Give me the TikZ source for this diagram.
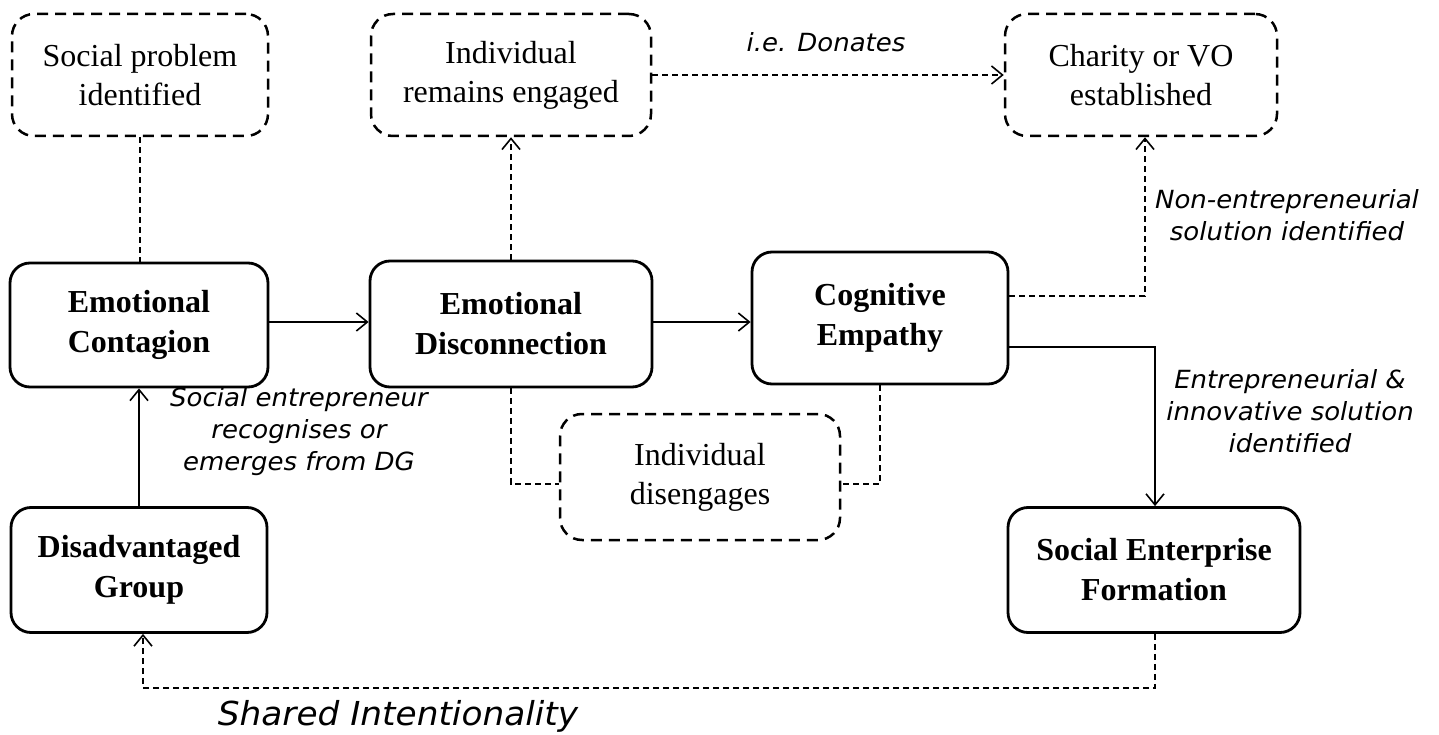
\documentclass[tikz,border=0pt]{standalone}
\usepackage{fontspec}
\setmainfont{Liberation Serif}
\newfontfamily\labfont{DejaVu Sans}[FakeStretch=1.04]
\usetikzlibrary{arrows.meta,calc}
\begin{document}
\begin{tikzpicture}[x=1pt,y=-1pt,
 solidbox/.style={draw, line width=2.8pt, rounded corners=20pt, align=center, inner sep=0pt, font=\fontsize{32}{40}\selectfont\bfseries},
 dashbox/.style={draw, line width=2.5pt, dash pattern=on 11pt off 7pt, rounded corners=22pt, align=center, inner sep=0pt, font=\fontsize{32}{39}\selectfont},
 conn/.style={line width=1.6pt},
 dconn/.style={line width=1.5pt, dash pattern=on 6pt off 4pt},
 tip/.style={-{Straight Barb[length=11pt,width=18pt,line width=1.6pt]}},
 lab/.style={align=center, font=\labfont\itshape\fontsize{25}{32}\selectfont}]
\useasboundingbox (0,0) rectangle (1439,735);

% dashed outcome boxes
\node[dashbox, minimum width=256pt, minimum height=122pt] (sp) at (140,75) {Social problem\\identified};
\node[dashbox, minimum width=280pt, minimum height=122pt] (ire) at (511,75) {Individual\\remains engaged};
\node[dashbox, minimum width=272pt, minimum height=122pt] (cvo) at (1141,75) {Charity or VO\\established};
\node[dashbox, minimum width=280pt, minimum height=126pt] (id) at (700,477) {Individual\\disengages};

% solid stage boxes
\node[solidbox, minimum width=258pt, minimum height=124pt] (ec) at (139,325) {Emotional\\Contagion};
\node[solidbox, minimum width=282pt, minimum height=126pt] (ed) at (511,324) {Emotional\\Disconnection};
\node[solidbox, minimum width=256pt, minimum height=132pt] (ce) at (880,318) {Cognitive\\Empathy};
\node[solidbox, minimum width=292pt, minimum height=125pt] (sef) at (1154,570) {Social Enterprise\\Formation};
\node[solidbox, minimum width=256pt, minimum height=125pt] (dg) at (139,570) {Disadvantaged\\Group};

% connectors
\draw[dconn] (sp.south) -- (sp.south |- ec.north);
\draw[dconn,tip] (ed.north) -- (ed.north |- ire.south);
\draw[dconn,tip] (ire.east) -- (cvo.west);
\draw[conn,tip] ([yshift=3pt]ec.east) -- ([yshift=3pt]ec.east -| ed.west);
\draw[conn,tip] ([yshift=2pt]ed.east) -- ([yshift=2pt]ed.east -| ce.west);
\coordinate (k1) at (1145,296);
\draw[dconn,tip] (ce.east |- k1) -- (k1) -- (k1 |- cvo.south);
\coordinate (k2) at (1155,347);
\draw[conn,tip] (ce.east |- k2) -- (k2) -- (k2 |- sef.north);
\draw[conn,tip] (dg.north) -- (dg.north |- ec.south);
\coordinate (k3) at (511,484);
\coordinate (k4) at (880,484);
\draw[dconn] (ed.south) -- (k3) -- (k3 -| id.west);
\draw[dconn] (ce.south) -- (k4) -- (k4 -| id.east);
\coordinate (k5) at (1155,688);
\coordinate (k6) at (143,688);
\draw[dconn,tip] (k5 |- sef.south) -- (k5) -- (k6) -- (k6 |- dg.south);

% labels
\node[lab] (l1) at (826,42) {i.e. Donates};
\node[lab] (l2) at (1287,215) {Non-entrepreneurial\\solution identified};
\node[lab] (l3) at (1290,411) {Entrepreneurial \&\\innovative solution\\identified};
\node[lab] (l4) at (299,432) {Social entrepreneur\\recognises or\\emerges from DG};
\node[lab, font=\labfont\itshape\fontsize{33}{40}\selectfont] (l5) at (398,716) {Shared Intentionality};
\end{tikzpicture}
\end{document}
